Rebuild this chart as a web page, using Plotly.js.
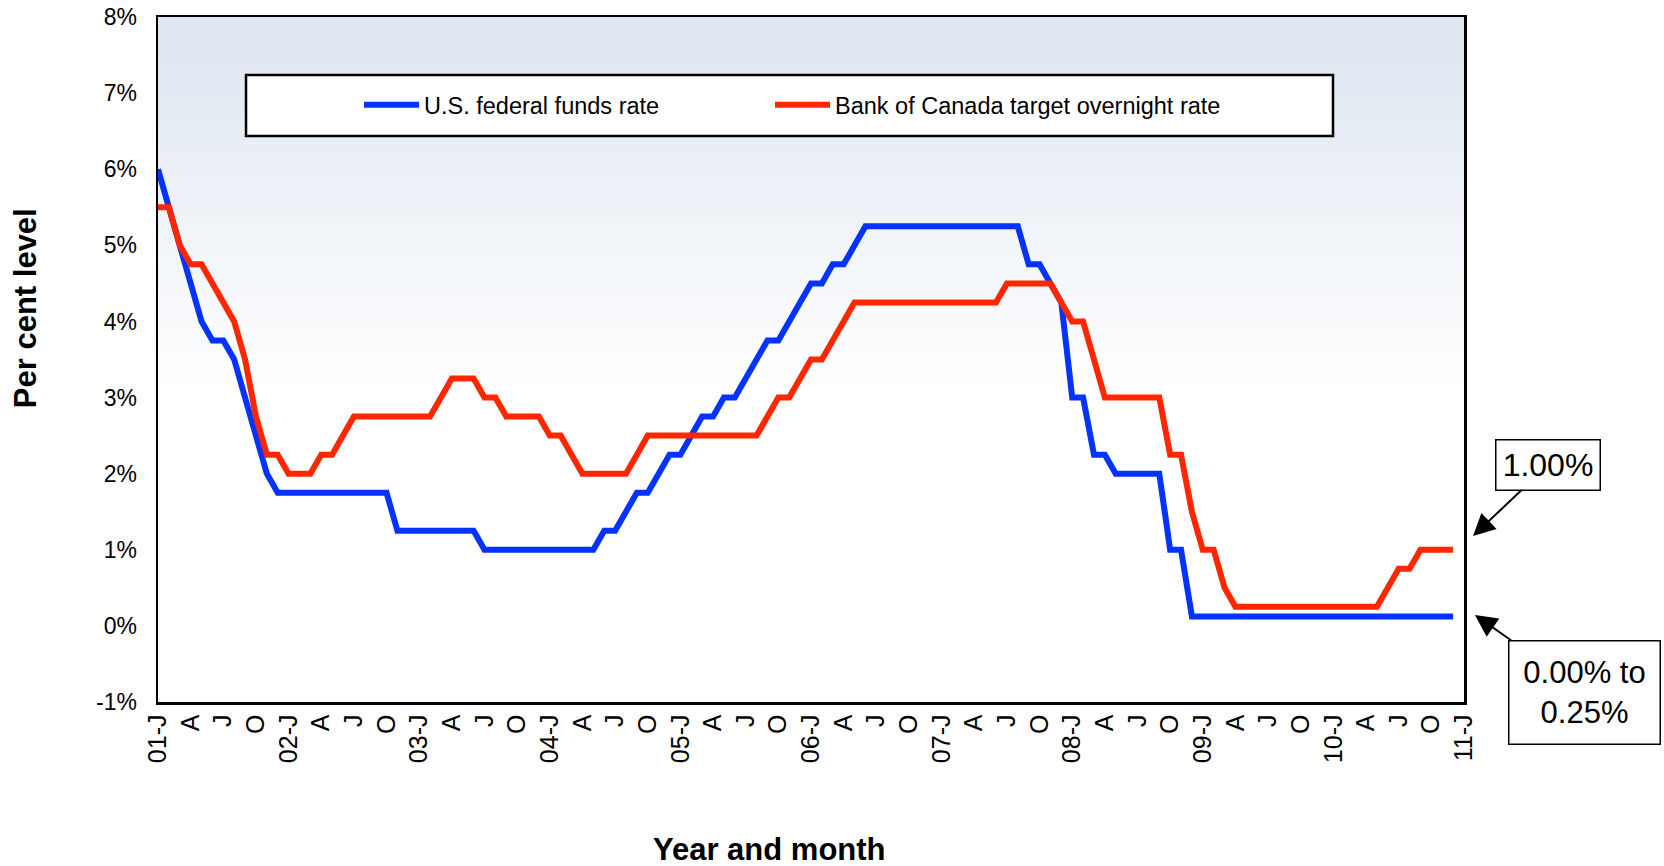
<!DOCTYPE html>
<html>
<head>
<meta charset="utf-8">
<script src="https://cdn.plot.ly/plotly-3.0.1.min.js"></script>
<style>
  html, body { margin: 0; padding: 0; background: #ffffff; }
  #chart { width: 1664px; height: 866px; }
</style>
</head>
<body>
<div id="chart"></div>
<script>
// ---- Data (monthly, January 2001 to December 2010) ----
const seriesNames = ["U.S. federal funds rate", "Bank of Canada target overnight rate"];

const usRate = [
  6.00, 5.50, 5.00, 4.50, 4.00, 3.75, 3.75, 3.50, 3.00, 2.50, 2.00, 1.75,   // 2001
  1.75, 1.75, 1.75, 1.75, 1.75, 1.75, 1.75, 1.75, 1.75, 1.75, 1.25, 1.25,   // 2002
  1.25, 1.25, 1.25, 1.25, 1.25, 1.25, 1.00, 1.00, 1.00, 1.00, 1.00, 1.00,   // 2003
  1.00, 1.00, 1.00, 1.00, 1.00, 1.25, 1.25, 1.50, 1.75, 1.75, 2.00, 2.25,   // 2004
  2.25, 2.50, 2.75, 2.75, 3.00, 3.00, 3.25, 3.50, 3.75, 3.75, 4.00, 4.25,   // 2005
  4.50, 4.50, 4.75, 4.75, 5.00, 5.25, 5.25, 5.25, 5.25, 5.25, 5.25, 5.25,   // 2006
  5.25, 5.25, 5.25, 5.25, 5.25, 5.25, 5.25, 5.25, 4.75, 4.75, 4.50, 4.25,   // 2007
  3.00, 3.00, 2.25, 2.25, 2.00, 2.00, 2.00, 2.00, 2.00, 1.00, 1.00, 0.125,  // 2008
  0.125, 0.125, 0.125, 0.125, 0.125, 0.125, 0.125, 0.125, 0.125, 0.125, 0.125, 0.125, // 2009
  0.125, 0.125, 0.125, 0.125, 0.125, 0.125, 0.125, 0.125, 0.125, 0.125, 0.125, 0.125  // 2010
];

const canadaRate = [
  5.50, 5.50, 5.00, 4.75, 4.75, 4.50, 4.25, 4.00, 3.50, 2.75, 2.25, 2.25,   // 2001
  2.00, 2.00, 2.00, 2.25, 2.25, 2.50, 2.75, 2.75, 2.75, 2.75, 2.75, 2.75,   // 2002
  2.75, 2.75, 3.00, 3.25, 3.25, 3.25, 3.00, 3.00, 2.75, 2.75, 2.75, 2.75,   // 2003
  2.50, 2.50, 2.25, 2.00, 2.00, 2.00, 2.00, 2.00, 2.25, 2.50, 2.50, 2.50,   // 2004
  2.50, 2.50, 2.50, 2.50, 2.50, 2.50, 2.50, 2.50, 2.75, 3.00, 3.00, 3.25,   // 2005
  3.50, 3.50, 3.75, 4.00, 4.25, 4.25, 4.25, 4.25, 4.25, 4.25, 4.25, 4.25,   // 2006
  4.25, 4.25, 4.25, 4.25, 4.25, 4.25, 4.50, 4.50, 4.50, 4.50, 4.50, 4.25,   // 2007
  4.00, 4.00, 3.50, 3.00, 3.00, 3.00, 3.00, 3.00, 3.00, 2.25, 2.25, 1.50,   // 2008
  1.00, 1.00, 0.50, 0.25, 0.25, 0.25, 0.25, 0.25, 0.25, 0.25, 0.25, 0.25,   // 2009
  0.25, 0.25, 0.25, 0.25, 0.25, 0.50, 0.75, 0.75, 1.00, 1.00, 1.00, 1.00    // 2010
];

// Category axis: one tick label every quarter, Jan 2001 .. Jan 2011
const xTickText = [
  "01-J", "A", "J", "O", "02-J", "A", "J", "O", "03-J", "A", "J", "O",
  "04-J", "A", "J", "O", "05-J", "A", "J", "O", "06-J", "A", "J", "O",
  "07-J", "A", "J", "O", "08-J", "A", "J", "O", "09-J", "A", "J", "O",
  "10-J", "A", "J", "O", "11-J"
];
const yTickVals = [-1, 0, 1, 2, 3, 4, 5, 6, 7, 8];
const yTickText = ["-1%", "0%", "1%", "2%", "3%", "4%", "5%", "6%", "7%", "8%"];

const annotationTexts = ["1.00%", "0.00% to<br>0.25%"];
const axisTitles = { x: "Year and month", y: "Per cent level" };

// ---- Build ----
const monthIndex = usRate.map((_, i) => i);
const xTickVals = xTickText.map((_, i) => i * 3);

const FONT = '"Liberation Sans", Arial, Helvetica, sans-serif';

const traces = [
  {
    type: "scatter", mode: "lines", name: seriesNames[0],
    x: monthIndex, y: usRate,
    line: { color: "#0433ff", width: 6 },
    legend: "legend",
    hoverinfo: "skip"
  },
  {
    type: "scatter", mode: "lines", name: seriesNames[1],
    x: monthIndex, y: canadaRate,
    line: { color: "#ff2600", width: 6 },
    legend: "legend2",
    hoverinfo: "skip"
  }
];

// vertical gradient of plot background (light blue-grey at top to white)
const bgShapes = [];
const N_BANDS = 60, gradBottom = 0.45;
const gradTopColor = [221, 229, 240];
for (let k = 0; k < N_BANDS; k++) {
  const y0 = gradBottom + (1 - gradBottom) * k / N_BANDS;
  const y1 = gradBottom + (1 - gradBottom) * (k + 1) / N_BANDS;
  const f = (k + 0.5) / N_BANDS;
  const c = gradTopColor.map(v => Math.round(255 + (v - 255) * f));
  bgShapes.push({
    type: "rect", xref: "paper", yref: "paper", layer: "below",
    x0: 0, x1: 1, y0: y0, y1: Math.min(1, y1 + 0.002),
    fillcolor: `rgb(${c[0]},${c[1]},${c[2]})`, line: { width: 0 }
  });
}
// legend frame
bgShapes.push({
  type: "rect", xref: "paper", yref: "paper", layer: "above",
  x0: 0.0674, x1: 0.8997, y0: 0.8263, y1: 0.9153,
  fillcolor: "#ffffff", line: { color: "#000000", width: 2.5 }
});

const legendCommon = {
  orientation: "h",
  xanchor: "left",
  y: 0.8715, yanchor: "middle",
  bgcolor: "rgba(0,0,0,0)", borderwidth: 0,
  font: { family: FONT, size: 23.5, color: "#000000" },
  itemwidth: 55
};

const layout = {
  width: 1664, height: 866,
  margin: { l: 158, r: 200, t: 17, b: 164 },
  paper_bgcolor: "#ffffff",
  plot_bgcolor: "#ffffff",
  font: { family: FONT, color: "#000000", size: 22 },
  showlegend: true,
  legend: Object.assign({}, legendCommon, { x: 0.1539 }),
  legend2: Object.assign({}, legendCommon, { x: 0.4686 }),
  xaxis: {
    range: [0, 120],
    tickmode: "array", tickvals: xTickVals, ticktext: xTickText,
    tickangle: -90,
    tickfont: { family: FONT, size: 25, color: "#000000" },
    ticks: "", showgrid: false, zeroline: false,
    showline: true, mirror: true, linecolor: "#000000", linewidth: 2.5,
    ticklabelstandoff: 0,
    fixedrange: true
  },
  yaxis: {
    range: [-1, 8],
    tickmode: "array", tickvals: yTickVals, ticktext: yTickText,
    tickfont: { family: FONT, size: 23, color: "#000000" },
    ticks: "", showgrid: false, zeroline: false,
    showline: true, mirror: true, linecolor: "#000000", linewidth: 2.5,
    ticklabelstandoff: 14,
    fixedrange: true
  },
  shapes: bgShapes,
  annotations: [
    {
      xref: "paper", yref: "paper", x: -0.1018, y: 0.575,
      text: "<b>" + axisTitles.y + "</b>", textangle: -90, showarrow: false,
      font: { family: FONT, size: 31, color: "#000000" },
      xanchor: "center", yanchor: "middle"
    },
    {
      xref: "paper", yref: "paper", x: 0.4686, y: -0.216,
      text: "<b>" + axisTitles.x + "</b>", showarrow: false,
      font: { family: FONT, size: 31, color: "#000000" },
      xanchor: "center", yanchor: "middle"
    },
    {
      xref: "paper", yref: "paper", x: 1.0069, y: 0.2423,
      text: annotationTexts[0],
      showarrow: true, ax: 75, ay: -71,
      arrowhead: 2, arrowsize: 2.2, arrowwidth: 2, arrowcolor: "#000000",
      font: { family: FONT, size: 32, color: "#000000" },
      bgcolor: "#ffffff", bordercolor: "#000000", borderwidth: 1.5, borderpad: 4,
      width: 95, height: 41
    },
    {
      xref: "paper", yref: "paper", x: 1.0084, y: 0.127,
      text: annotationTexts[1],
      showarrow: true, ax: 110, ay: 77,
      arrowhead: 2, arrowsize: 2.2, arrowwidth: 2, arrowcolor: "#000000",
      font: { family: FONT, size: 31, color: "#000000" },
      bgcolor: "#ffffff", bordercolor: "#000000", borderwidth: 1.5, borderpad: 4,
      width: 142, height: 94
    }
  ]
};

Plotly.newPlot("chart", traces, layout, { displayModeBar: false, staticPlot: true });
</script>
</body>
</html>
